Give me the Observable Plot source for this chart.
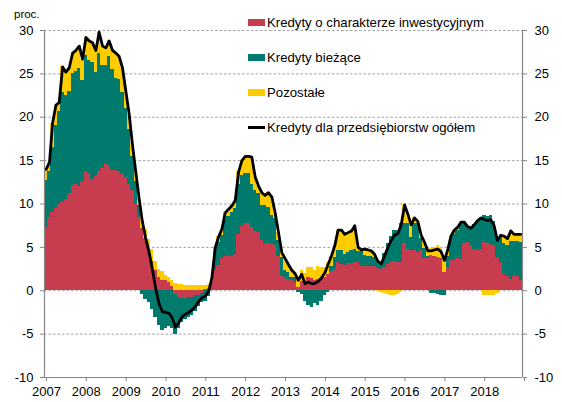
<!DOCTYPE html>
<html><head><meta charset="utf-8">
<script src="https://cdn.jsdelivr.net/npm/d3@7"></script>
<script src="https://cdn.jsdelivr.net/npm/@observablehq/plot@0.6"></script>
<style>
body{margin:0;background:#fff;font-family:"Liberation Sans",Arial,sans-serif;}
#wrap{position:relative;width:562px;height:402px;}
.item{position:absolute;left:248px;white-space:nowrap;display:flex;align-items:center;font-size:13.2px;color:#000;height:15px;line-height:15px;}
.sw{width:17px;height:7px;margin-right:2px;}
.ln{width:17px;height:3px;background:#000;margin-right:2px;}
.unit{position:absolute;left:14px;top:8px;font-size:11.5px;color:#000;}
</style></head><body><div id="wrap"></div>
<script>
const startYear = 2007;
const endYear = 2019;
const seriesNames = ["Kredyty o charakterze inwestycyjnym", "Kredyty bieżące", "Pozostałe"];
const lineName = "Kredyty dla przedsiębiorstw ogółem";
const colors = ["#C83C4F", "#007A6C", "#FFCC00"];
const yTicks = [-10, -5, 0, 5, 10, 15, 20, 25, 30];
const yearTicks = [2007, 2008, 2009, 2010, 2011, 2012, 2013, 2014, 2015, 2016, 2017, 2018, 2019];
const yearLabels = ["2007","2008","2009","2010","2011","2012","2013","2014","2015","2016","2017","2018",""];
const unitLabel = "proc.";

// monthly values, Jan 2007 - Dec 2018
const investment = [
  7.3, 8.4, 9.0, 9.5, 9.9, 10.2, 10.5, 11.2, 12.0, 12.3, 12.0, 12.6,
  13.7, 13.5, 12.8, 13.2, 13.8, 14.1, 14.6, 14.4, 13.9, 13.9, 13.7, 13.4,
  13.1, 12.3, 11.5, 10.0, 8.5, 7.2, 6.0, 4.6, 3.4, 2.3, 1.5, 1.2,
  1.2, 0.9, 0.5, -0.4, -0.8, -0.9, -0.9, -0.8, -0.8, -0.6, -0.5, -0.3,
  0.2, 0.3, 1.1, 2.3, 2.9, 3.7, 3.9, 4.0, 4.0, 4.2, 6.5, 7.4,
  7.8, 7.8, 7.3, 6.8, 6.7, 5.8, 5.5, 5.4, 5.3, 5.2, 4.0, 1.6,
  1.5, 1.3, 1.2, 1.0, 0.4, 1.1, 1.1, 1.5, 1.4, 1.2, 1.3, 1.4,
  1.5, 1.9, 2.2, 2.5, 3.2, 3.0, 2.9, 3.1, 3.1, 3.2, 3.3, 2.8,
  2.8, 2.8, 2.8, 2.8, 2.6, 2.4, 2.7, 3.0, 3.3, 3.4, 3.3, 3.2,
  5.4, 4.7, 4.6, 4.6, 4.4, 4.6, 3.7, 3.7, 4.1, 4.0, 3.8, 3.7,
  2.1, 2.7, 3.5, 3.5, 3.7, 3.6, 5.4, 5.6, 5.2, 4.7, 4.6, 4.8,
  5.6, 5.4, 5.3, 5.2, 3.8, 3.2, 1.9, 1.6, 1.3, 1.7, 1.7, 1.2
];
const current = [
  5.4, 5.4, 7.5, 9.5, 10.8, 12.6, 12.0, 11.8, 13.0, 13.0, 13.6, 11.6,
  13.4, 13.0, 13.5, 12.0, 13.6, 11.9, 11.4, 12.6, 11.6, 10.6, 10.7, 9.5,
  7.9, 6.3, 4.0, 2.6, 1.3, -0.4, -1.0, -1.4, -2.2, -3.1, -4.0, -4.6,
  -4.3, -4.1, -4.3, -4.6, -3.6, -2.8, -2.4, -2.3, -2.0, -1.8, -1.3, -1.1,
  -1.2, -0.7, 0.0, 2.1, 2.7, 2.7, 4.3, 4.6, 5.0, 5.3, 5.8, 5.9,
  5.7, 5.7, 5.0, 4.7, 4.5, 4.0, 4.3, 4.2, 3.4, 3.1, 1.8, 2.2,
  0.8, 0.8, 0.3, 0.5, -0.2, -0.4, -1.2, -1.7, -1.9, -1.5, -1.7, -1.2,
  -0.6, -0.2, 0.6, 1.3, 1.4, 1.6, 1.3, 1.3, 1.5, 1.6, 1.2, 1.7,
  1.3, 1.2, 1.1, 1.0, 0.9, 0.9, 1.6, 2.4, 3.0, 3.5, 3.7, 4.6,
  2.4, 3.1, 1.5, 3.2, 3.4, 1.4, 1.2, 0.3, -0.3, -0.3, -0.4, -0.5,
  -0.5, 1.3, 2.4, 3.0, 3.3, 4.1, 2.4, 1.8, 2.0, 2.9, 3.5, 3.5,
  3.1, 3.2, 3.4, 2.8, 2.3, 2.9, 3.6, 3.6, 4.4, 4.0, 4.0, 4.4
];
const other = [
  1.3, 1.0, 2.8, 2.4, 1.0, 3.0, 2.7, 2.7, 2.4, 2.4, 2.6, 2.5,
  2.1, 2.3, 2.3, 2.5, 2.4, 2.2, 2.0, 1.8, 2.2, 2.9, 2.6, 2.8,
  2.0, 1.7, 1.5, 1.2, 1.0, 1.2, 1.1, 1.3, 1.3, 1.1, 1.0, 1.0,
  0.6, 0.6, 0.7, 0.8, 0.7, 0.7, 0.6, 0.6, 0.6, 0.6, 0.6, 0.6,
  0.4, 0.4, 0.4, 0.6, 0.6, 0.7, 0.8, 0.8, 0.8, 0.9, 1.4, 1.7,
  2.0, 2.0, 3.1, 1.6, 0.9, 1.5, 1.2, 1.7, 2.1, 0.7, 0.9, 0.6,
  1.4, 0.9, 0.9, 0.5, 1.0, 1.2, 0.9, 1.2, 1.3, 1.15, 1.5, 1.3,
  1.2, 1.4, 1.2, 1.4, 2.4, 2.4, 2.3, 2.3, 2.3, 2.7, 0.5, 0.2,
  0.7, 0.7, 0.7, 0.4, -0.1, -0.2, -0.3, -0.4, -0.5, -0.5, -0.4, -0.2,
  2.1, 1.0, 1.5, 0.6, 0.2, 0.4, 0.7, 0.6, 0.8, 1.0, 1.4, 1.3,
  1.9, 0.8, 0.4, 0.5, 0.3, 0.2, 0.1, 0.0, 0.0, 0.0, 0.0, 0.1,
  -0.5, -0.5, -0.5, -0.5, -0.3, 0.3, 0.8, 0.8, 1.2, 0.8, 0.8, 0.9
];
const total = [
  14.0, 14.8, 19.3, 21.4, 21.7, 25.8, 25.2, 25.7, 27.4, 27.7, 28.2, 26.7,
  29.2, 28.8, 28.6, 27.7, 29.8, 28.2, 28.0, 28.8, 27.7, 27.4, 27.0, 25.7,
  23.0, 20.3, 17.0, 13.8, 10.8, 8.0, 6.1, 4.5, 2.5, 0.3, -1.5, -2.4,
  -2.5, -2.6, -3.1, -4.2, -3.7, -3.0, -2.7, -2.5, -2.2, -1.8, -1.2, -0.8,
  -0.6, 0.0, 1.5, 5.0, 6.2, 7.1, 9.0, 9.4, 9.8, 10.4, 13.7, 15.0,
  15.5, 15.5, 15.4, 13.1, 12.1, 11.3, 11.0, 11.3, 10.8, 9.0, 6.7, 4.4,
  3.7, 3.0, 2.4, 2.0, 1.2, 1.9, 0.8, 1.0, 0.8, 0.85, 1.1, 1.5,
  2.1, 3.1, 4.0, 5.2, 7.0, 7.0, 6.5, 6.7, 6.9, 7.5, 5.0, 4.7,
  4.8, 4.7, 4.6, 4.2, 3.4, 3.1, 4.0, 5.0, 5.8, 6.4, 6.6, 7.6,
  9.9, 8.8, 7.6, 8.4, 8.0, 6.4, 5.6, 4.6, 4.6, 4.7, 4.8, 4.5,
  3.5, 4.8, 6.3, 7.0, 7.3, 7.9, 7.9, 7.4, 7.2, 7.6, 8.1, 8.4,
  8.2, 8.1, 8.2, 7.5, 5.8, 6.4, 6.3, 6.0, 6.9, 6.5, 6.5, 6.5
];

const utc = (y, m, d = 1) => new Date(Date.UTC(y, m, d));
const rows = [];
[investment, current, other].forEach((arr, k) => arr.forEach((v, i) => rows.push({
  start: utc(startYear, i), end: utc(startYear, i + 1), value: v, series: seriesNames[k]
})));
const lineRows = total.map((v, i) => ({date: utc(startYear, i, 16), value: v}));
const yearDates = yearTicks.map(y => utc(y, 0));
const labelOf = new Map(yearTicks.map((y, i) => [y, yearLabels[i]]));

const axisColor = "#868686";
const chart = Plot.plot({
  width: 562, height: 402,
  marginLeft: 44, marginRight: 40, marginTop: 30, marginBottom: 25,
  style: {fontFamily: "'Liberation Sans', Arial, sans-serif", fontSize: "13px", background: "white", color: "#000", overflow: "visible"},
  x: {type: "utc", domain: [utc(startYear, 0), utc(endYear, 0)]},
  y: {domain: [-10, 30]},
  color: {domain: seriesNames, range: colors},
  marks: [
    Plot.ruleY(yTicks.filter(d => d > -10), {stroke: "#a0a0a0", strokeDasharray: "2.5,2", strokeWidth: 1}),
    Plot.rectY(rows, {x1: "start", x2: "end", y: "value", fill: "series", shapeRendering: "crispEdges"}),
    Plot.line(lineRows, {x: "date", y: "value", stroke: "#000", strokeWidth: 2.8, strokeLinejoin: "round"}),
    Plot.ruleX([utc(startYear, 0), utc(endYear, 0)], {stroke: axisColor, strokeWidth: 1.2}),
    Plot.ruleY([-10], {stroke: axisColor, strokeWidth: 1.2}),
    Plot.axisY({anchor: "left", ticks: yTicks, tickSize: 4, tickPadding: 7, tickFormat: d => String(d), stroke: axisColor, fill: "#000", label: null, fontSize: 13}),
    Plot.axisY({anchor: "right", ticks: yTicks, tickSize: 4, tickPadding: 8, tickFormat: d => String(d), stroke: axisColor, fill: "#000", label: null, fontSize: 13}),
    Plot.axisX({ticks: yearDates, tickSize: 4, tickPadding: 5, tickFormat: d => labelOf.get(d.getUTCFullYear()), stroke: axisColor, fill: "#000", label: null, fontSize: 13, dx: 2})
  ]
});

const wrap = document.getElementById("wrap");
wrap.appendChild(chart);
const unit = document.createElement("div");
unit.className = "unit"; unit.textContent = unitLabel;
wrap.appendChild(unit);
const legendTops = [15, 50, 85, 120];
seriesNames.forEach((name, k) => {
  const it = document.createElement("div");
  it.className = "item"; it.style.top = legendTops[k] + "px";
  const sw = document.createElement("span"); sw.className = "sw"; sw.style.background = colors[k];
  const tx = document.createElement("span"); tx.textContent = name;
  it.appendChild(sw); it.appendChild(tx); wrap.appendChild(it);
});
{
  const it = document.createElement("div");
  it.className = "item"; it.style.top = legendTops[3] + "px";
  const sw = document.createElement("span"); sw.className = "ln";
  const tx = document.createElement("span"); tx.textContent = lineName;
  it.appendChild(sw); it.appendChild(tx); wrap.appendChild(it);
}
</script></body></html>
